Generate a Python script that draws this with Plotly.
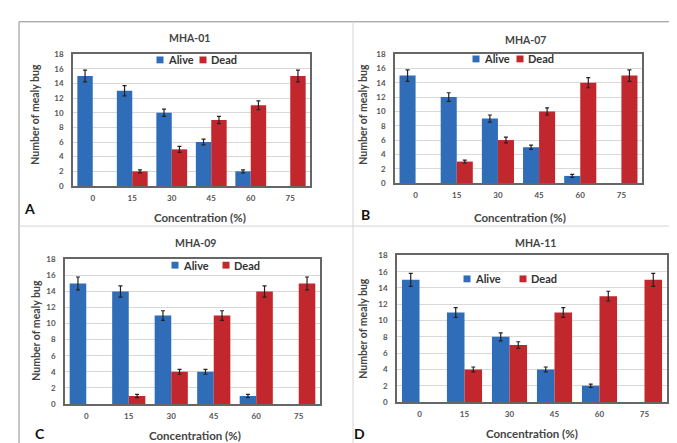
import plotly.graph_objects as go

W, H = 677, 443
categories = ["0", "15", "30", "45", "60", "75"]
series_names = ["Alive", "Dead"]
panel_titles = ["MHA-01", "MHA-07", "MHA-09", "MHA-11"]
panel_letters = ["A", "B", "C", "D"]

alive_01 = [15, 13, 10, 6, 2, 0]
dead_01 = [0, 2, 5, 9, 11, 15]
alive_err_01 = [0.8, 0.7, 0.5, 0.4, 0.2, 0]
dead_err_01 = [0, 0.2, 0.4, 0.5, 0.6, 0.8]

alive_07 = [15, 12, 9, 5, 1, 0]
dead_07 = [0, 3, 6, 10, 14, 15]
alive_err_07 = [0.8, 0.6, 0.5, 0.3, 0.2, 0]
dead_err_07 = [0, 0.2, 0.4, 0.5, 0.7, 0.8]

alive_09 = [15, 14, 11, 4, 1, 0]
dead_09 = [0, 1, 4, 11, 14, 15]
alive_err_09 = [0.8, 0.7, 0.6, 0.3, 0.2, 0]
dead_err_09 = [0, 0.2, 0.3, 0.6, 0.7, 0.8]

alive_11 = [15, 11, 8, 4, 2, 0]
dead_11 = [0, 4, 7, 11, 13, 15]
alive_err_11 = [0.8, 0.6, 0.5, 0.3, 0.2, 0]
dead_err_11 = [0, 0.3, 0.4, 0.6, 0.6, 0.8]

panels = [
    (alive_01, dead_01, alive_err_01, dead_err_01),
    (alive_07, dead_07, alive_err_07, dead_err_07),
    (alive_09, dead_09, alive_err_09, dead_err_09),
    (alive_11, dead_11, alive_err_11, dead_err_11),
]

# layout in pixels
boxes = [(65, 302, 42, 177), (387, 634, 42, 174), (57, 312, 252, 400), (389, 659, 248, 398)]
legend_pos = [(152, 195, 48), (468, 512, 47), (167, 218, 258), (459, 515, 272)]
title_pos = [(181, 26), (517, 28), (187, 235), (527, 235)]
letter_pos = [(22, 200), (357, 206), (32, 430), (352, 430)]
xtitle_pos = [(192, 209), (512, 209), (187, 432), (524, 430)]
ytitle_pos = [(27, 104), (355, 104), (28, 325), (355, 323)]

BLUE = "#2F6DB9"
RED = "#C1272D"
FONT = "Lato"

def px(x):
    return x / W

def py(y):
    return 1 - y / H

def nz(vals):
    # zero-height bars are invisible; skip them so no stray error caps are drawn
    return [v if v else None for v in vals]

fig = go.Figure()
annotations = []
shapes = []
for i, (alive, dead, ae, de) in enumerate(panels):
    n = "" if i == 0 else str(i + 1)
    fig.add_trace(go.Bar(x=categories, y=nz(alive), name=series_names[0], marker_color=BLUE,
                         marker_line_width=0, showlegend=False,
                         error_y=dict(type="data", array=ae, color="#222", thickness=1.2, width=2),
                         xaxis="x" + n, yaxis="y" + n))
    fig.add_trace(go.Bar(x=categories, y=nz(dead), name=series_names[1], marker_color=RED,
                         marker_line_width=0, showlegend=False,
                         error_y=dict(type="data", array=de, color="#222", thickness=1.2, width=2),
                         xaxis="x" + n, yaxis="y" + n))
    x0, x1, y0, y1 = boxes[i]
    fig.update_layout(**{
        "xaxis" + n: dict(domain=[px(x0), px(x1)], anchor="y" + n, showgrid=False,
                          showline=True, linecolor="#666", linewidth=1.5, mirror=True,
                          ticks="", ticklabelstandoff=4,
                          tickfont=dict(family=FONT, size=8, color="#555", weight="bold"),
                          fixedrange=True),
        "yaxis" + n: dict(domain=[py(y1), py(y0)], anchor="x" + n, range=[0, 18], dtick=2,
                          showgrid=True, gridcolor="#d9d9d9", gridwidth=1,
                          showline=True, linecolor="#666", linewidth=1.5, mirror=True,
                          ticks="", ticklabelstandoff=6,
                          tickfont=dict(family=FONT, size=8, color="#555", weight="bold"),
                          zeroline=False, fixedrange=True),
    })
    # legend drawn as squares + text
    bx, rx, ly = legend_pos[i]
    for cx, col, name in [(bx, BLUE, series_names[0]), (rx, RED, series_names[1])]:
        shapes.append(dict(type="rect", xref="paper", yref="paper",
                           x0=px(cx - 3.5), x1=px(cx + 3.5), y0=py(ly + 3.5), y1=py(ly - 3.5),
                           fillcolor=col, line=dict(width=0)))
        annotations.append(dict(text="<b>" + name + "</b>", x=px(cx + 6), y=py(ly),
                                xref="paper", yref="paper", showarrow=False,
                                xanchor="left", yanchor="middle",
                                font=dict(family=FONT, size=11, color="#333")))
    tx, ty = title_pos[i]
    annotations.append(dict(text="<b>" + panel_titles[i] + "</b>", x=px(tx), y=py(ty),
                            xref="paper", yref="paper", showarrow=False,
                            xanchor="center", yanchor="middle",
                            font=dict(family=FONT, size=10.5, color="#444")))
    lx, lyy = letter_pos[i]
    annotations.append(dict(text="<b>" + panel_letters[i] + "</b>", x=px(lx), y=py(lyy),
                            xref="paper", yref="paper", showarrow=False,
                            xanchor="center", yanchor="middle", borderpad=0,
                            font=dict(family=FONT, size=14, color="#111")))
    cx, cy = xtitle_pos[i]
    annotations.append(dict(text="<b>Concentration (%)</b>", x=px(cx), y=py(cy),
                            xref="paper", yref="paper", showarrow=False,
                            xanchor="center", yanchor="middle",
                            font=dict(family=FONT, size=11.5, color="#444")))
    yx, yy = ytitle_pos[i]
    annotations.append(dict(text="<b>Number of mealy bug</b>", x=px(yx), y=py(yy),
                            xref="paper", yref="paper", showarrow=False, textangle=-90,
                            xanchor="center", yanchor="middle",
                            font=dict(family=FONT, size=10.5, color="#444")))

shapes += [
    dict(type="rect", xref="paper", yref="paper", x0=px(11), x1=px(675), y0=py(445), y1=py(9),
         line=dict(color="#8c8c8c", width=1), layer="below"),
    dict(type="line", xref="paper", yref="paper", x0=px(11), x1=px(675), y0=py(218), y1=py(218),
         line=dict(color="#d4d4d4", width=1), layer="below"),
    dict(type="line", xref="paper", yref="paper", x0=px(345), x1=px(345), y0=py(9), y1=py(445),
         line=dict(color="#d4d4d4", width=1), layer="below"),
]

fig.update_layout(
    width=W, height=H, margin=dict(l=0, r=0, t=0, b=0),
    paper_bgcolor="white", plot_bgcolor="white",
    barmode="group", bargap=0.22, bargroupgap=0.0,
    annotations=annotations, shapes=shapes,
    font=dict(family=FONT), showlegend=False,
)

fig.write_html("out.html")
